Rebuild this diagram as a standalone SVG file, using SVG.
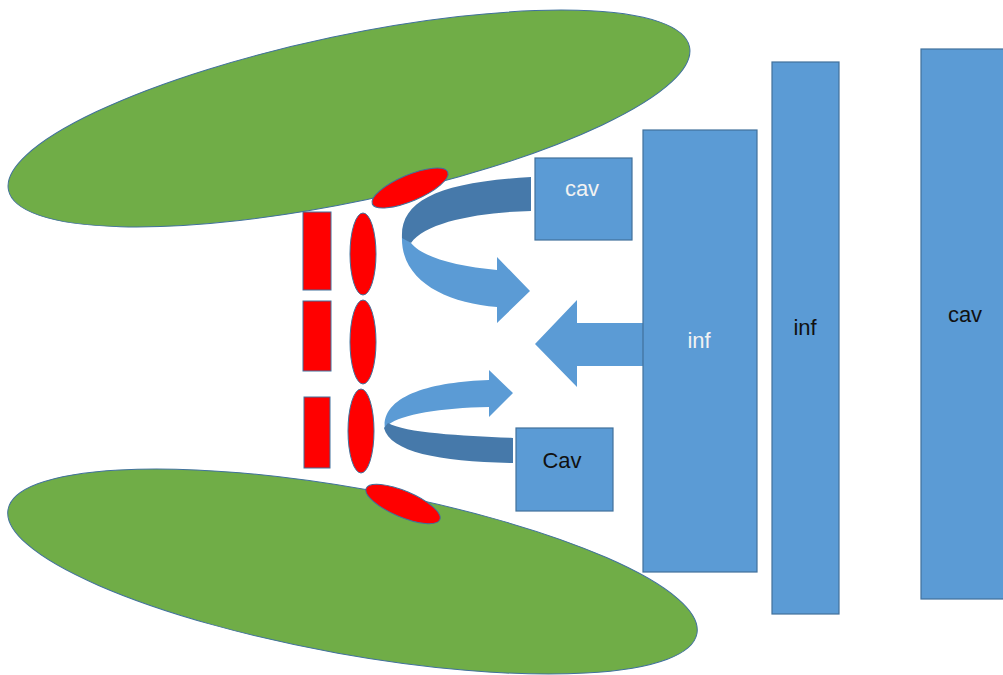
<svg xmlns="http://www.w3.org/2000/svg" width="1003" height="675" viewBox="0 0 1003 675">
<style>
.green{fill:#70AD47;stroke:#41719C;stroke-width:1}
.red{fill:#FF0000;stroke:#41719C;stroke-width:1}
.box{fill:#5B9BD5;stroke:#41719C;stroke-width:1.2}
.arr{fill:#5B9BD5;stroke:none}
.arrd{fill:#4679AA;stroke:none}
.lbl{font-family:"Liberation Sans",Arial,sans-serif;font-size:22px;text-anchor:middle}
.w{fill:#F2F2F2}
.k{fill:#111111}
</style>
<rect width="1003" height="675" fill="#FFFFFF"/>
<g id="jaw-top"><ellipse class="green" cx="349" cy="118.5" rx="348" ry="83" transform="rotate(-11.9 349 118.5)"/></g>
<g id="jaw-bottom"><ellipse class="green" cx="352.5" cy="571.5" rx="350" ry="83" transform="rotate(10.2 352.5 571.5)"/></g>
<g id="red-rects">
<rect class="red" x="303" y="212" width="28" height="78"/>
<rect class="red" x="303" y="301" width="28" height="70"/>
<rect class="red" x="304" y="397" width="26" height="71"/>
</g>
<g id="red-ellipses">
<ellipse class="red" cx="363" cy="254" rx="13" ry="41"/>
<ellipse class="red" cx="363" cy="342" rx="13" ry="42"/>
<ellipse class="red" cx="361" cy="431" rx="13" ry="42"/>
<ellipse class="red" cx="410" cy="188" rx="41" ry="13" transform="rotate(-23 410 188)"/>
<ellipse class="red" cx="403" cy="504" rx="40" ry="13" transform="rotate(23 403 504)"/>
</g>
<g id="connectors">
<path class="arr" d="M402,236 C400,280 445,303 497,307 L497,323 L530,291 L497,257 L497,270 C455,266 422,257 411,243 Z"/>
<path class="arrd" d="M531,177 L531,211 C480,212 425,222 411,243 L402,238 C400,200 440,182 531,177 Z"/>
<path class="arr" d="M385,430 C380,396 430,382 489,380 L489,370 L513,393 L489,417 L489,407 C440,408 402,414 388,425 Z"/>
<path class="arrd" d="M384,428 C390,452 440,462 513,463 L513,438 C465,436 405,433 388,423 Z"/>
<path class="arr" d="M643,323 L577,323 L577,300 L535,344 L577,387 L577,366 L643,366 Z"/>
</g>
<g id="cav-top"><rect class="box" x="535" y="158" width="97" height="82"/><text class="lbl w" x="582" y="196">cav</text></g>
<g id="cav-bottom"><rect class="box" x="516" y="428" width="97" height="83"/><text class="lbl k" x="562" y="468">Cav</text></g>
<g id="inf-1"><rect class="box" x="643" y="130" width="114" height="442"/><text class="lbl w" x="699" y="348">inf</text></g>
<g id="inf-2"><rect class="box" x="772" y="62" width="67" height="552"/><text class="lbl k" x="805" y="335">inf</text></g>
<g id="cav-right"><rect class="box" x="921" y="49" width="90" height="550"/><text class="lbl k" x="965" y="322">cav</text></g>
</svg>
